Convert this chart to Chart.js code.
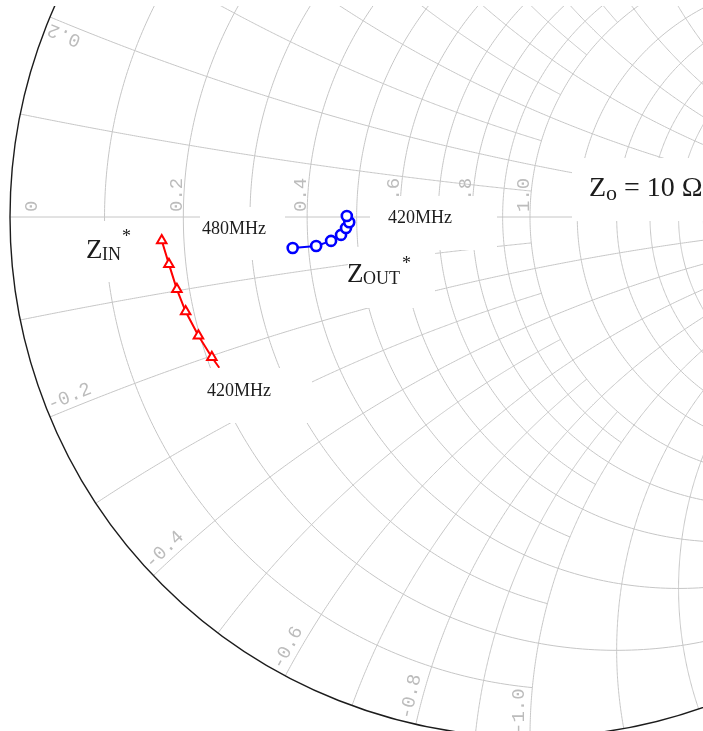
<!DOCTYPE html>
<html>
<head>
<meta charset="utf-8">
<script src="https://cdn.jsdelivr.net/npm/chart.js@4.4.1/dist/chart.umd.min.js"></script>
<style>
  html, body { margin: 0; padding: 0; background: #fff; }
  canvas { display: block; }
</style>
</head>
<body>
<canvas id="smith" width="703" height="731"></canvas>
<script>
// Reference impedance (ohms)
const Z0 = 10;

// Z_IN* trace, 480 MHz -> 420 MHz (ohms)
const zinR = [1.70, 1.77, 1.83, 1.89, 1.98, 2.07];
const zinX = [-0.31, -0.63, -0.98, -1.30, -1.67, -2.02];
// the swept trace runs on past the last marker
const zinTailR = 2.12;
const zinTailX = -2.20;

// Z_OUT* trace, 480 MHz -> 420 MHz (ohms)
const zoutR = [3.71, 4.15, 4.45, 4.66, 4.77, 4.84, 4.79];
const zoutX = [-0.56, -0.56, -0.48, -0.37, -0.23, -0.11, 0.02];

// Smith grid: circles and how far each family is drawn
const rGrid = [
  { vals: [0.1, 0.3, 0.5, 0.7, 0.9], upTo: 1 },
  { vals: [0.2, 0.4, 0.6, 0.8, 1.0, 1.2, 1.4, 1.6, 1.8], upTo: 2 },
  { vals: [2, 3, 4], upTo: 5 },
  { vals: [5], upTo: 10 },
  { vals: [10], upTo: 20 },
  { vals: [20, 50], upTo: Infinity }
];
const xGrid = rGrid;

// Tick labels
const rTicks = [0, 0.2, 0.4, 0.6, 0.8, 1.0, 2.0, 3.0, 4.0, 5.0];
const rTickText = ['0', '0.2', '0.4', '0.6', '0.8', '1.0', '2.0', '3.0', '4.0', '5.0'];
const xTicks = [0.2, 0.4, 0.6, 0.8, 1.0, 2.0, 3.0, 4.0, 5.0];

// normalized impedance -> reflection coefficient
function toGamma(r, x) {
  const d = (r + 1) * (r + 1) + x * x;
  return { x: (r * r + x * x - 1) / d, y: 2 * x / d };
}

const zinPts = zinR.map((r, i) => toGamma(r / Z0, zinX[i] / Z0));
zinPts.push(toGamma(zinTailR / Z0, zinTailX / Z0));
const zoutPts = zoutR.map((r, i) => toGamma(r / Z0, zoutX[i] / Z0));

function resistancePath(r, xMax) {
  const u = Math.atan(xMax), n = 320, pts = [];
  for (let i = 0; i <= n; i++) pts.push(toGamma(r, Math.tan(-u + 2 * u * i / n)));
  return pts;
}
function reactancePath(x, rMax) {
  const u = Math.atan(rMax), n = 320, pts = [];
  for (let i = 0; i <= n; i++) pts.push(toGamma(Math.tan(u * i / n), x));
  return pts;
}

const GRID = '#c6c6c6';
const TICK = '#bcbcbc';
const INK = '#1c1c1c';

// white label panels and their text runs: [text, x, baseline, size]
const panels = [
  [572, 158, 703, 221], [200, 207, 285, 260], [370, 196, 497, 250],
  [348, 247, 435, 308], [80, 221, 150, 282], [205, 368, 312, 423]
];
const runs = [
  ['Z', 589, 196, 28], ['o', 606, 200, 22], [' = 10 Ω', 617, 196, 28],
  ['480MHz', 202, 234, 18],
  ['420MHz', 388, 223, 18],
  ['420MHz', 207, 396, 18],
  ['Z', 86, 258, 27], ['IN', 102, 260, 18], ['*', 122, 242, 18],
  ['Z', 347, 282, 27], ['OUT', 363, 284, 18], ['*', 402, 269, 18]
];

const smithGrid = {
  id: 'smithGrid',
  beforeDatasetsDraw(chart) {
    const { ctx, chartArea: a, scales: { x: sx, y: sy } } = chart;
    const px = g => [sx.getPixelForValue(g.x), sy.getPixelForValue(g.y)];
    const stroke = pts => {
      ctx.beginPath();
      pts.forEach((g, i) => { const p = px(g); i ? ctx.lineTo(p[0], p[1]) : ctx.moveTo(p[0], p[1]); });
      ctx.stroke();
    };
    ctx.save();
    ctx.beginPath();
    ctx.rect(a.left, a.top, a.right - a.left, a.bottom - a.top);
    ctx.clip();

    ctx.strokeStyle = GRID;
    ctx.lineWidth = 1;
    rGrid.forEach(f => f.vals.forEach(r => stroke(resistancePath(r, f.upTo))));
    xGrid.forEach(f => f.vals.forEach(x => {
      stroke(reactancePath(x, f.upTo));
      stroke(reactancePath(-x, f.upTo));
    }));
    stroke([{ x: -1, y: 0 }, { x: 1, y: 0 }]);

    // rim
    const c = px({ x: 0, y: 0 });
    const R = sx.getPixelForValue(1) - c[0];
    ctx.strokeStyle = INK;
    ctx.lineWidth = 1.4;
    ctx.beginPath();
    ctx.arc(c[0], c[1], R, 0, Math.PI * 2);
    ctx.stroke();

    // resistance labels along the real axis
    ctx.fillStyle = TICK;
    ctx.font = '19px "Liberation Mono"';
    ctx.textBaseline = 'alphabetic';
    ctx.textAlign = 'left';
    rTicks.forEach((r, i) => {
      const p = px(toGamma(r, 0));
      const bx = r === 0 ? p[0] + 27 : p[0] - 1;
      ctx.save();
      ctx.translate(bx, c[1] - 5);
      ctx.rotate(-Math.PI / 2);
      ctx.fillText(rTickText[i], 0, 0);
      ctx.restore();
    });

    // reactance labels at the rim
    const xLabel = x => {
      const p = px(toGamma(0, x));
      const dx = (c[0] - p[0]) / R, dy = (c[1] - p[1]) / R;
      const ang = x < 0 ? Math.atan2(dy, dx) : Math.atan2(-dy, -dx);
      const ux = Math.sin(ang), uy = -Math.cos(ang);
      ctx.save();
      ctx.translate(p[0] + 3 * dx + 6 * ux, p[1] + 3 * dy + 6 * uy);
      ctx.rotate(ang);
      ctx.textAlign = x < 0 ? 'left' : 'right';
      ctx.fillText(x.toFixed(1), 0, 0);
      ctx.restore();
    };
    xTicks.forEach(x => { xLabel(x); xLabel(-x); });
    ctx.restore();
  },
  afterDatasetsDraw(chart) {
    const { ctx } = chart;
    ctx.save();
    ctx.fillStyle = '#fff';
    panels.forEach(b => ctx.fillRect(b[0], b[1], b[2] - b[0], b[3] - b[1]));
    ctx.fillStyle = INK;
    ctx.textAlign = 'left';
    ctx.textBaseline = 'alphabetic';
    runs.forEach(([t, x, y, s]) => {
      ctx.font = s + 'px "Liberation Serif"';
      ctx.fillText(t, x, y);
    });
    ctx.restore();
  }
};

new Chart(document.getElementById('smith'), {
  type: 'scatter',
  data: {
    datasets: [
      {
        label: 'ZIN*',
        data: zinPts,
        showLine: true,
        borderColor: '#ff0000',
        borderWidth: 2,
        pointStyle: 'triangle',
        pointRadius: zinPts.map((_, i) => (i < zinR.length ? 5.5 : 0)),
        pointBorderWidth: 2,
        pointBorderColor: '#ff0000',
        pointBackgroundColor: '#ffffff'
      },
      {
        label: 'ZOUT*',
        data: zoutPts,
        showLine: true,
        borderColor: '#0000ff',
        borderWidth: 2,
        pointStyle: 'circle',
        pointRadius: 5,
        pointBorderWidth: 2.6,
        pointBorderColor: '#0000ff',
        pointBackgroundColor: '#ffffff'
      }
    ]
  },
  options: {
    responsive: false,
    animation: false,
    events: [],
    layout: { autoPadding: false, padding: { top: 6, left: 0, right: 0, bottom: 0 } },
    plugins: { legend: { display: false }, tooltip: { enabled: false } },
    scales: {
      x: { type: 'linear', min: -530 / 520, max: 173 / 520, display: false },
      y: { type: 'linear', min: -514 / 520, max: 211 / 520, display: false }
    }
  },
  plugins: [smithGrid]
});
</script>
</body>
</html>
